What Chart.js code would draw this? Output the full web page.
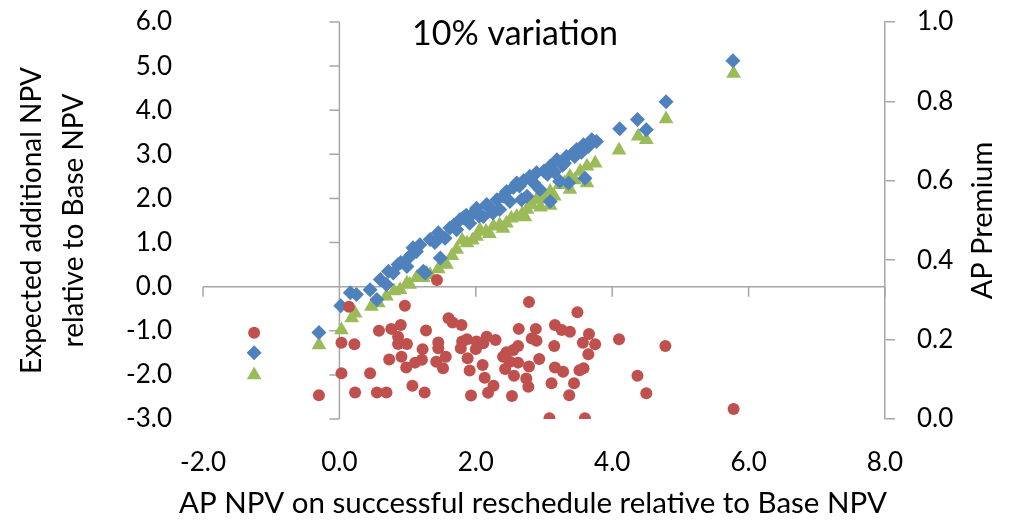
<!DOCTYPE html>
<html>
<head>
<meta charset="utf-8">
<script src="https://cdn.jsdelivr.net/npm/chart.js@4.4.1/dist/chart.umd.min.js"></script>
<style>
  html, body { margin: 0; padding: 0; background: #fff; }
</style>
</head>
<body>
<canvas id="myChart" width="1018" height="523"></canvas>
<script>
// Expected additional NPV (left axis) - blue diamonds
var blueX = [-1.25, -0.30, 0.02, 0.16, 0.25, 0.45, 0.55, 0.60, 0.69, 0.72, 0.79, 0.86, 0.90, 0.99, 1.01, 1.05, 1.08, 1.13, 1.18,
    1.23, 1.26, 1.33, 1.40, 1.45, 1.48, 1.55, 1.62, 1.68, 1.72, 1.77, 1.82, 1.86, 1.91, 1.95, 2.01, 2.05, 2.11, 2.16, 2.20,
    2.25, 2.31, 2.35, 2.40, 2.45, 2.50, 2.55, 2.60, 2.64, 2.67, 2.70, 2.75, 2.79, 2.85, 2.89, 2.94, 3.00, 3.05, 3.09, 3.09,
    3.15, 3.19, 3.23, 3.27, 3.30, 3.33, 3.36, 3.42, 3.45, 3.48, 3.55, 3.58, 3.60, 3.65, 3.70, 3.77, 4.11, 4.37, 4.50, 4.79, 5.77];
var blueY = [-1.50, -1.04, -0.43, -0.14, -0.18, -0.07, -0.29, 0.16, 0.05, 0.35, 0.31, 0.50, 0.55, 0.46, 0.65, 0.72, 0.88, 0.80, 0.95,
    0.35, 0.31, 1.07, 1.00, 1.22, 0.65, 1.10, 1.33, 1.40, 1.29, 1.52, 1.56, 1.62, 1.44, 1.65, 1.78, 1.60, 1.59, 1.86, 1.80,
    1.67, 1.97, 1.75, 2.05, 2.16, 1.93, 2.25, 2.35, 2.28, 1.97, 2.40, 2.05, 2.50, 2.35, 2.58, 2.20, 2.62, 2.55, 1.93, 2.73,
    2.60, 2.88, 2.39, 2.75, 2.80, 2.95, 2.35, 3.02, 2.95, 3.11, 3.05, 3.22, 2.46, 3.18, 3.33, 3.29, 3.58, 3.79, 3.56, 4.19, 5.12];

// second NPV series (left axis) - green triangles
var greenX = [-1.25, -0.30, 0.03, 0.18, 0.23, 0.47, 0.57, 0.69, 0.80, 0.89, 0.99, 1.03, 1.13, 1.23, 1.28, 1.33, 1.45, 1.52, 1.57,
    1.65, 1.72, 1.80, 1.87, 1.95, 2.01, 2.06, 2.15, 2.20, 2.26, 2.35, 2.40, 2.45, 2.52, 2.60, 2.68, 2.72, 2.75, 2.82, 2.89,
    2.95, 3.00, 3.09, 3.09, 3.15, 3.23, 3.30, 3.38, 3.38, 3.45, 3.53, 3.63, 3.63, 3.75, 4.10, 4.38, 4.50, 4.79, 5.78];
var greenY = [-2.00, -1.32, -0.98, -0.71, -0.60, -0.45, -0.37, -0.22, -0.10, -0.07, 0.08, 0.05, 0.20, 0.20, 0.30, 0.27, 0.40, 0.54, 0.50,
    0.70, 0.84, 1.05, 0.99, 1.05, 1.14, 1.29, 1.25, 1.20, 1.37, 1.40, 1.32, 1.44, 1.55, 1.59, 1.65, 1.58, 1.75, 1.85, 1.97,
    1.80, 2.00, 1.84, 2.16, 2.05, 2.31, 2.35, 2.20, 2.50, 2.42, 2.61, 2.35, 2.73, 2.80, 3.09, 3.41, 3.33, 3.80, 4.83];

// AP Premium (right axis) - red circles
var redX = [-1.25, -0.30, 0.14, 0.96, 1.60, 1.66, 1.79, 0.58, 0.76, 0.90, 1.27, 0.86, 0.03, 0.22, 0.86, 0.99, 1.45, 1.45, 1.22,
    1.80, 1.87, 1.78, 2.01, 2.16, 2.11, 2.29, 2.00, 0.73, 0.91, 0.98, 1.11, 1.21, 1.42, 1.52, 1.56, 1.88, 2.10, 1.91, 2.13,
    0.03, 0.45, 1.07, 1.25, 0.23, 0.55, 0.69, 1.93, 2.26, 2.18, 2.78, 3.49, 2.63, 2.88, 2.82, 2.89, 3.16, 3.26, 3.38, 3.66,
    3.57, 3.75, 4.10, 3.15, 3.65, 2.62, 2.55, 2.45, 2.40, 2.93, 2.50, 2.62, 2.43, 2.78, 3.16, 3.28, 3.52, 3.58, 2.56, 2.74,
    2.77, 3.11, 3.44, 2.53, 3.37, 4.37, 4.50, 3.08, 3.60, 4.78, 5.78, 1.43];
var redY = [0.217, 0.060, 0.283, 0.285, 0.254, 0.243, 0.237, 0.222, 0.227, 0.237, 0.223, 0.207, 0.192, 0.188, 0.189, 0.189, 0.193, 0.178, 0.176,
    0.195, 0.201, 0.178, 0.195, 0.207, 0.191, 0.199, 0.176, 0.150, 0.157, 0.130, 0.142, 0.149, 0.144, 0.128, 0.157, 0.153, 0.136, 0.122, 0.104,
    0.115, 0.115, 0.084, 0.067, 0.067, 0.067, 0.067, 0.059, 0.084, 0.066, 0.295, 0.269, 0.227, 0.227, 0.203, 0.197, 0.237, 0.224, 0.220, 0.214,
    0.192, 0.188, 0.201, 0.184, 0.163, 0.184, 0.174, 0.168, 0.157, 0.151, 0.144, 0.142, 0.126, 0.132, 0.130, 0.119, 0.123, 0.128, 0.109, 0.102,
    0.081, 0.090, 0.090, 0.058, 0.060, 0.109, 0.065, 0.002, 0.002, 0.184, 0.025, 0.350];

var axisColor = '#a6a6a6';
var fontFamily = 'Lato, "Open Sans", sans-serif';

function toPoints(xs, ys) {
    var pts = [];
    for (var i = 0; i < xs.length; i++) {
        pts.push({ x: xs[i], y: ys[i] });
    }
    return pts;
}

function oneDecimal(value) {
    return Number(value).toFixed(1);
}

// tick padding would otherwise push the plot top down
function fixedWidth(w) {
    return function (scale) {
        scale.width = w;
        scale.paddingTop = 0;
        scale.paddingBottom = 0;
    };
}

// axes cross at zero like the excel original, plus the titles chart.js can't place
var crossAxes = {
    id: 'crossAxes',
    beforeDatasetsDraw: function (chart) {
        var ctx = chart.ctx;
        var area = chart.chartArea;
        var xs = chart.scales.x;
        var ys = chart.scales.y;
        var x0 = xs.getPixelForValue(0);
        var y0 = ys.getPixelForValue(0);
        ctx.save();
        ctx.strokeStyle = axisColor;
        ctx.lineWidth = 1.5;
        ctx.beginPath();
        ctx.moveTo(x0, area.top);
        ctx.lineTo(x0, area.bottom);
        ys.ticks.forEach(function (t) {
            var py = ys.getPixelForValue(t.value);
            ctx.moveTo(x0 - 10, py);
            ctx.lineTo(x0, py);
        });
        ctx.moveTo(area.left, y0);
        ctx.lineTo(area.right, y0);
        xs.ticks.forEach(function (t) {
            var px = xs.getPixelForValue(t.value);
            ctx.moveTo(px, y0);
            ctx.lineTo(px, y0 + 10);
        });
        ctx.stroke();
        ctx.restore();
    },
    afterDraw: function (chart) {
        var ctx = chart.ctx;
        var area = chart.chartArea;
        ctx.save();
        ctx.fillStyle = '#000';
        ctx.textAlign = 'center';
        ctx.textBaseline = 'middle';
        // chart title sits inside the plot area
        ctx.font = '34px ' + fontFamily;
        ctx.fillText('10% variation', 515, 34);
        // x axis title, a bit left of the plot centre as in the original
        ctx.font = '29.5px ' + fontFamily;
        ctx.fillText('AP NPV on successful reschedule relative to Base NPV', 533, 503);
        // right axis title reads bottom to top
        ctx.translate(983, (area.top + area.bottom) / 2);
        ctx.rotate(-Math.PI / 2);
        ctx.font = '29px ' + fontFamily;
        ctx.fillText('AP Premium', 0, 0);
        ctx.restore();
    }
};

var ctx = document.getElementById('myChart');

var npvChart = new Chart(ctx, {
    type: 'scatter',
    data: {
        datasets: [{
            label: 'AP Premium',
            data: toPoints(redX, redY),
            yAxisID: 'y1',
            pointStyle: 'circle',
            pointRadius: 6,
            borderWidth: 0,
            backgroundColor: '#C0504D',
            borderColor: '#C0504D'
        }, {
            label: 'Expected additional NPV',
            data: toPoints(blueX, blueY),
            yAxisID: 'y',
            pointStyle: 'rectRot',
            pointRadius: 7.5,
            borderWidth: 0,
            backgroundColor: '#4F81BD',
            borderColor: '#4F81BD'
        }, {
            label: 'NPV',
            data: toPoints(greenX, greenY),
            yAxisID: 'y',
            pointStyle: 'triangle',
            pointRadius: 8.5,
            borderWidth: 0,
            backgroundColor: '#9BBB59',
            borderColor: '#9BBB59'
        }]
    },
    options: {
        responsive: false,
        animation: false,
        layout: { padding: { top: 22 } },
        plugins: {
            legend: { display: false },
            tooltip: { enabled: false },
            title: { display: false }
        },
        scales: {
            x: {
                type: 'linear',
                position: 'bottom',
                min: -2,
                max: 8,
                grid: { display: false, drawTicks: false },
                border: { display: false },
                ticks: {
                    stepSize: 2,
                    padding: 28,
                    color: '#000',
                    font: { family: fontFamily, size: 26 },
                    callback: oneDecimal
                },
                afterFit: function (scale) { scale.height = 104; }
            },
            y: {
                type: 'linear',
                position: 'left',
                min: -3,
                max: 6,
                grid: { display: false, drawTicks: false },
                border: { display: false },
                ticks: {
                    stepSize: 1,
                    padding: 31,
                    color: '#000',
                    font: { family: fontFamily, size: 26 },
                    callback: oneDecimal
                },
                title: {
                    display: true,
                    text: ['Expected additional NPV', 'relative to Base NPV'],
                    color: '#000',
                    font: { family: fontFamily, size: 28, lineHeight: 1.5 },
                    padding: { top: 11, bottom: 0 }
                },
                afterFit: fixedWidth(203)
            },
            y1: {
                type: 'linear',
                position: 'right',
                min: 0,
                max: 1,
                grid: { drawOnChartArea: false, drawTicks: true, tickLength: 10, color: axisColor, lineWidth: 1.5 },
                border: { display: true, color: axisColor, width: 1.5 },
                ticks: {
                    stepSize: 0.2,
                    padding: 22,
                    color: '#000',
                    font: { family: fontFamily, size: 26 },
                    callback: oneDecimal
                },
                afterFit: fixedWidth(133)
            }
        }
    },
    plugins: [crossAxes]
});
</script>
</body>
</html>
